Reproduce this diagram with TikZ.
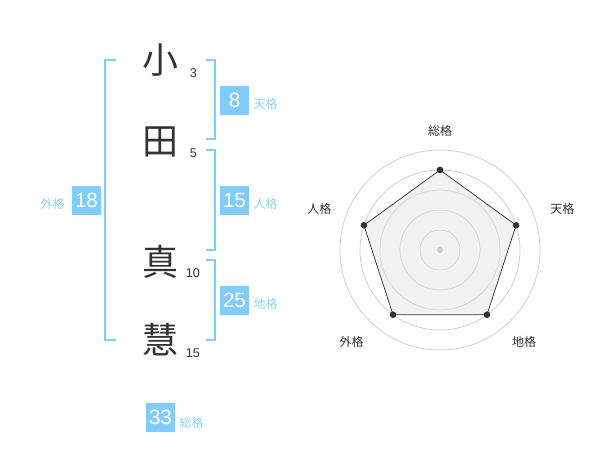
\documentclass[tikz,border=0pt]{standalone}
\usepackage{fontspec}
\setmainfont{Liberation Sans}
\newfontfamily\jp{Noto Sans CJK JP}
\definecolor{kblue}{HTML}{82CCFB}
\definecolor{klabel}{HTML}{8FD0F8}
\definecolor{kdark}{HTML}{333333}
\definecolor{kgrid}{HTML}{CCCCCC}
\definecolor{kfill}{HTML}{F0F0F0}
\begin{document}
\begin{tikzpicture}[x=0.75pt,y=-0.75pt,
  kanji/.style={font=\jp\fontsize{27}{27}\selectfont,text=kdark,inner sep=0pt},
  strokes/.style={font=\fontsize{9.5}{9.5}\selectfont,text=kdark,inner sep=0pt},
  numbox/.style={fill=kblue,text=white,minimum width=21.75pt,minimum height=21.75pt,inner sep=0pt,font=\fontsize{15.5}{15.5}\selectfont},
  kaku/.style={font=\jp\fontsize{9}{9}\selectfont,text=klabel,inner sep=0pt},
  brk/.style={draw=kblue,line width=1.5pt},
  axlabel/.style={font=\jp\fontsize{9}{9}\selectfont,text=kdark,inner sep=0pt},
  ring/.style={draw=kgrid,line width=0.55pt},
  pt/.style={circle,fill=kdark,inner sep=0pt,minimum size=5pt}]
\useasboundingbox (0,0) rectangle (600,470);
% characters
\node[kanji] (c1) at (160,60) {小};
\node[kanji] (c2) at (160,142) {田};
\node[kanji] (c3) at (160,262) {真};
\node[kanji] (c4) at (160,340) {慧};
\node[strokes] (n1) at (193.5,73) {3};
\node[strokes] (n2) at (193.5,153) {5};
\node[strokes] (n3) at (193,273) {10};
\node[strokes] (n4) at (193,353) {15};
% brackets
\coordinate (la) at (115.5,60); \coordinate (lb) at (115.5,340);
\draw[brk] (la) -| (105,340) -- (lb);
\coordinate (r1a) at (205.5,60); \coordinate (r1b) at (205.5,139);
\draw[brk] (r1a) -| (214.5,139) -- (r1b);
\coordinate (r2a) at (205.5,150); \coordinate (r2b) at (205.5,250);
\draw[brk] (r2a) -| (214.5,250) -- (r2b);
\coordinate (r3a) at (205.5,260); \coordinate (r3b) at (205.5,340);
\draw[brk] (r3a) -| (214.5,340) -- (r3b);
% boxes
\node[numbox] (ten) at (234.5,100.5) {8};
\node[kaku] (tenl) at (265.7,104) {天格};
\node[numbox] (jin) at (234.5,200.5) {15};
\node[kaku] (jinl) at (265.7,204) {人格};
\node[numbox] (chi) at (234.5,300.5) {25};
\node[kaku] (chil) at (265.7,304) {地格};
\node[numbox] (gai) at (86.5,200.5) {18};
\node[kaku] (gail) at (52.7,204) {外格};
\node[numbox] (sou) at (160.5,417.5) {33};
\node[kaku] (soul) at (191.7,423.3) {総格};
% radar
\coordinate (O) at (440,250);
\foreach \r in {20,40,60,80,100} \draw[ring] (O) circle[radius=\r];
\path (O) ++(0,-80) coordinate (p1)
      (O) ++(76.08,-24.72) coordinate (p2)
      (O) ++(47.02,64.72) coordinate (p3)
      (O) ++(-47.02,64.72) coordinate (p4)
      (O) ++(-76.08,-24.72) coordinate (p5);
\draw[kdark,line width=0.55pt,fill=kfill,fill opacity=0.85] (p1) -- (p2) -- (p3) -- (p4) -- (p5) -- cycle;
\foreach \r in {20,40,60} \draw[ring,draw opacity=0.6] (O) circle[radius=\r];
\node[circle,fill=kgrid,inner sep=0pt,minimum size=4.5pt] (ctr) at (O) {};
\foreach \i in {1,...,5} \node[pt] (d\i) at (p\i) {};
\node[axlabel] (a1) at (440,131) {総格};
\node[axlabel] (a2) at (562.3,209) {天格};
\node[axlabel] (a3) at (524,341.7) {地格};
\node[axlabel] (a4) at (351.7,341.7) {外格};
\node[axlabel] (a5) at (319.3,209) {人格};
\end{tikzpicture}
\end{document}
